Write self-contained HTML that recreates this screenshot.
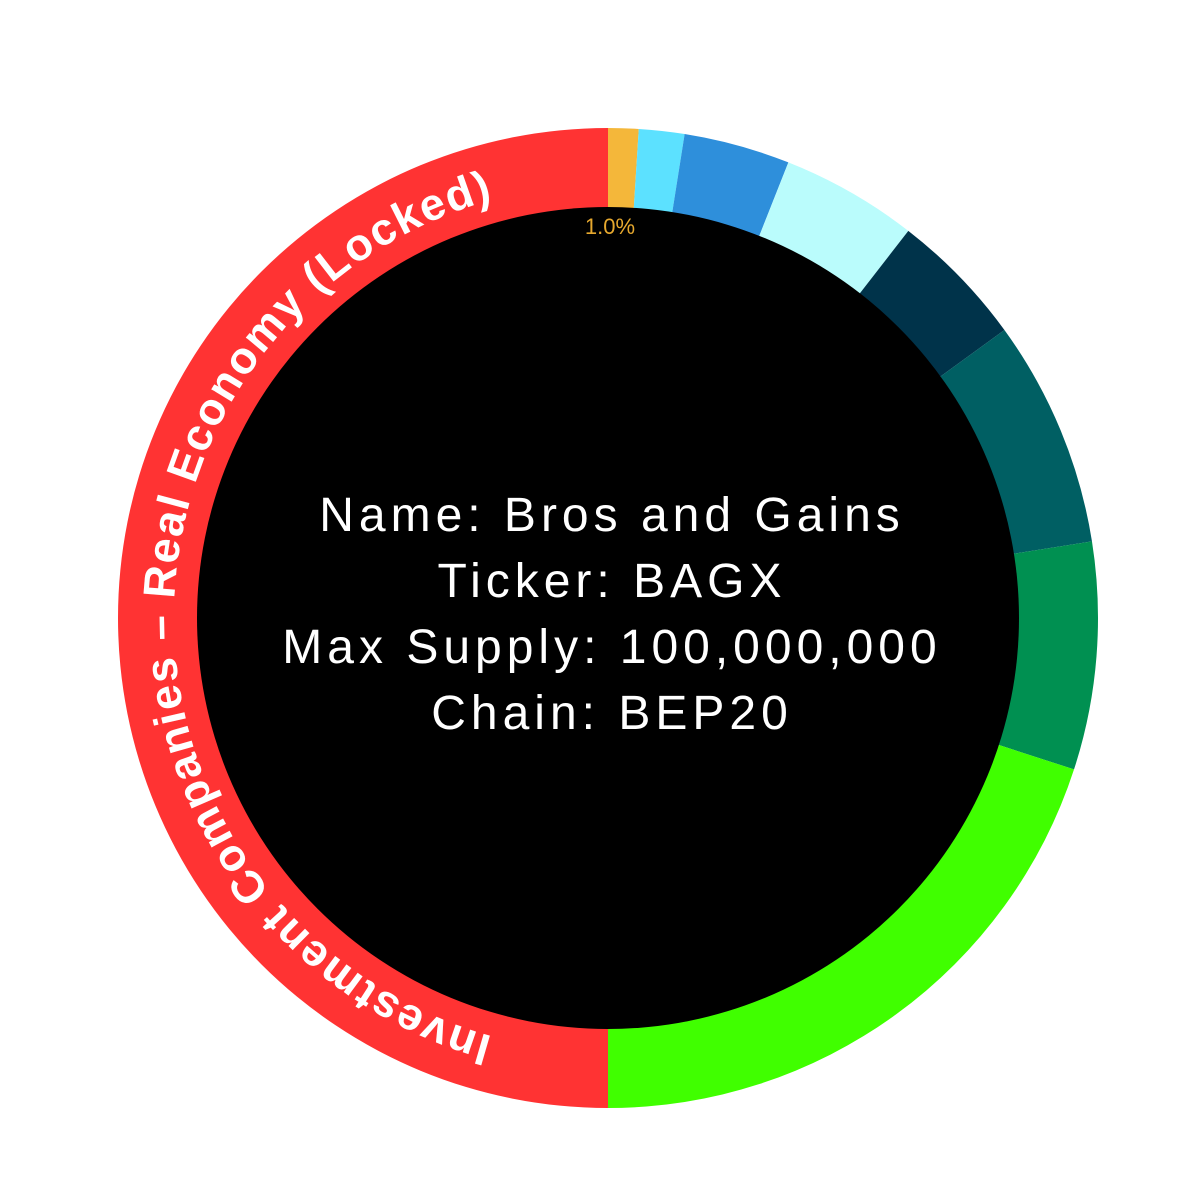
<!DOCTYPE html>
<html><head><meta charset="utf-8"><style>
html,body{margin:0;padding:0;background:#fff;width:1188px;height:1188px;overflow:hidden}
svg{display:block}
</style></head><body>
<svg id="s" width="1188" height="1188" viewBox="0 0 1188 1188" xmlns="http://www.w3.org/2000/svg">
<g id="segs"></g>
<circle cx="608" cy="618" r="411" fill="#000"/>
<path id="arc" d="M608,1052 A434,434 0 0 1 608,184" fill="none"/>
<text font-family="Liberation Sans, sans-serif" font-weight="bold" font-size="45" fill="#fff">
<textPath href="#arc" startOffset="50%" text-anchor="middle" textLength="1130" lengthAdjust="spacing">Investment Companies – Real Economy (Locked)</textPath></text>
<text x="610" y="234" text-anchor="middle" font-family="Liberation Sans, sans-serif" font-size="22" fill="#E6A82E">1.0%</text>
<g font-family="Liberation Sans, sans-serif" font-size="48" fill="#fff" text-anchor="middle" letter-spacing="5">
<text x="612" y="531">Name: Bros and Gains</text>
<text x="612" y="597">Ticker: BAGX</text>
<text x="612" y="663">Max Supply: 100,000,000</text>
<text x="612" y="729">Chain: BEP20</text>
</g>
</svg>
<script>
var cx=608,cy=618,R=490,r=405;
var segs=[[0,1,'#F4B73A'],[1,2.5,'#5CE1FF'],[2.5,6,'#2E8FDB'],[6,10.5,'#BAFCFC'],[10.5,15,'#00334A'],[15,22.5,'#005F63'],[22.5,30,'#009051'],[30,50,'#40FF00'],[50,100,'#FF3333']];
function pt(p,rad){var a=p/100*2*Math.PI;return [cx+rad*Math.sin(a),cy-rad*Math.cos(a)];}
var g=document.getElementById('segs'),h='';
segs.forEach(function(s){var a=pt(s[0],R),b=pt(s[1],R),c=pt(s[1],r),d=pt(s[0],r);var lg=(s[1]-s[0])>50?1:0;
h+='<path fill="'+s[2]+'" d="M'+a+' A'+R+','+R+' 0 '+lg+' 1 '+b+' L'+c+' A'+r+','+r+' 0 '+lg+' 0 '+d+' Z"/>';});
g.innerHTML=h;
</script>
</body></html>
